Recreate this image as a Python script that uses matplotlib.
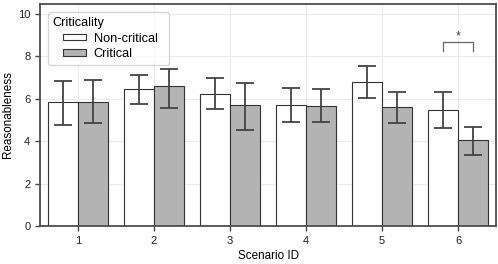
import matplotlib
matplotlib.use("Agg")
import matplotlib.pyplot as plt
from matplotlib.offsetbox import HPacker, DrawingArea
import numpy as np

plt.rcParams['font.family'] = ['Liberation Sans', 'DejaVu Sans']

scenarios = ["1", "2", "3", "4", "5", "6"]
noncrit_mean = [5.86, 6.45, 6.24, 5.71, 6.79, 5.46]
noncrit_lo = [4.78, 5.74, 5.50, 4.92, 6.04, 4.64]
noncrit_hi = [6.84, 7.11, 7.00, 6.49, 7.53, 6.34]
crit_mean = [5.86, 6.59, 5.69, 5.66, 5.63, 4.04]
crit_lo = [4.87, 5.58, 4.54, 4.92, 4.87, 3.33]
crit_hi = [6.89, 7.39, 6.75, 6.45, 6.34, 4.67]
sig_scenario = 5  # index of scenario 6
sig_y = 8.66
sig_drop = 0.39

fig = plt.figure(figsize=(4.98, 2.64), dpi=100)
ax = fig.add_axes([40/498, 38/264, 456/498, 222/264])

x = np.arange(len(scenarios))
w = 0.4
edge = '#333333'
ecol = '#444444'
ax.bar(x - w/2, noncrit_mean, w, color='white', edgecolor=edge, linewidth=0.8, label='Non-critical', zorder=2)
ax.bar(x + w/2, crit_mean, w, color='#b3b3b3', edgecolor=edge, linewidth=0.8, label='Critical', zorder=2)
nm = np.array(noncrit_mean); cm = np.array(crit_mean)
ax.errorbar(x - w/2, nm, yerr=[nm - np.array(noncrit_lo), np.array(noncrit_hi) - nm],
            fmt='none', ecolor=ecol, elinewidth=1.3, capsize=6.5, capthick=1.3, zorder=3)
ax.errorbar(x + w/2, cm, yerr=[cm - np.array(crit_lo), np.array(crit_hi) - cm],
            fmt='none', ecolor=ecol, elinewidth=1.3, capsize=6.5, capthick=1.3, zorder=3)

# significance bracket
xs = sig_scenario
ax.plot([xs - w/2, xs - w/2, xs + w/2, xs + w/2],
        [sig_y - sig_drop, sig_y, sig_y, sig_y - sig_drop],
        color='#666666', linewidth=0.9, zorder=3)
ax.text(xs, sig_y + 0.02, '*', ha='center', va='bottom', fontsize=9, color='#444444')

ax.set_xlim(-0.5, 5.5)
ax.set_ylim(0, 10.47)
ax.set_xticks(x)
ax.set_xticklabels(scenarios)
ax.set_yticks([0, 2, 4, 6, 8, 10])
ax.grid(True, color='#ebebeb', linewidth=0.8, zorder=0)
ax.set_axisbelow(True)
for s in ax.spines.values():
    s.set_color('#4d4d4d')
    s.set_linewidth(1.3)
ax.tick_params(axis='both', labelsize=8, colors='#222222', length=3.5, width=1, color='#444444')
ax.set_xlabel('Scenario ID', fontsize=8.4, labelpad=3)
ax.set_ylabel('Reasonableness', fontsize=8.4, labelpad=2.5)

leg = ax.legend(title='Criticality', loc='upper left', fontsize=9.2, title_fontsize=9.2,
                frameon=True, handlelength=1.75, handleheight=0.45, borderpad=0.35,
                labelspacing=0.3, handletextpad=0.65, borderaxespad=0.65,
                bbox_to_anchor=(0.0, 1.0))
leg._legend_box.align = 'left'
try:
    hb = leg._legend_handle_box
    box = leg._legend_box
    idx = box._children.index(hb)
    box._children[idx] = HPacker(pad=0, sep=0, children=[DrawingArea(7.5, 1), hb, DrawingArea(5, 1)])
except Exception:
    pass
leg.get_frame().set_edgecolor('#cccccc')

fig.savefig('out.png', dpi=100)
